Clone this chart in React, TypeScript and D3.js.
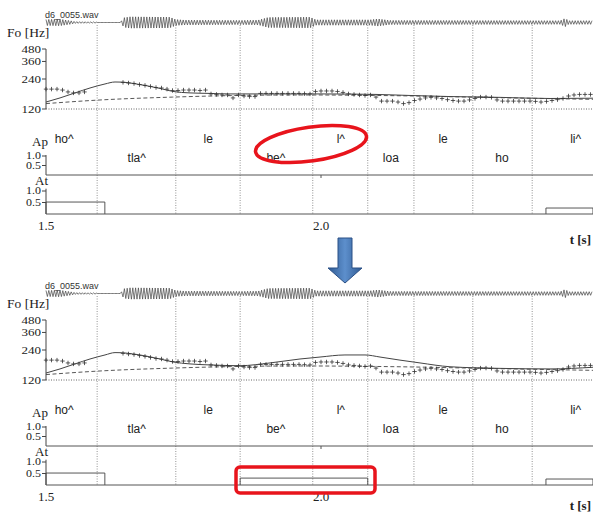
import React from 'react';
import * as d3 from 'd3';

// ---- data ----
const timeTicks = [1.5, 2.0];
const foTicks = [120, 240, 360, 480];
const apTicks = [0.5, 1.0];
const atTicks = [0.5, 1.0];

// syllable boundaries (s)
const boundaries = [1.593, 1.736, 1.853, 1.985, 2.085, 2.169, 2.276, 2.384];
const syllables = ['ho^', 'tla^', 'le', 'be^', 'l^', 'loa', 'le', 'ho', 'li^'];
const syllableTimes = [1.533, 1.665, 1.795, 1.918, 2.036, 2.127, 2.222, 2.329, 2.463];
const syllableRows = [0, 1, 0, 1, 0, 1, 0, 1, 0];

// measured F0 (t [s], Hz)
const measuredF0: [number, number][] = [
  [1.50, 190], [1.51, 190], [1.52, 190], [1.53, 186], [1.54, 178], [1.55, 174], [1.56, 174], [1.57, 178],
  [1.64, 222], [1.65, 219], [1.66, 216], [1.67, 211], [1.68, 207], [1.69, 202], [1.70, 197], [1.71, 195],
  [1.72, 190], [1.73, 184], [1.74, 184], [1.75, 186], [1.76, 186], [1.77, 186], [1.78, 184], [1.79, 186],
  [1.80, 170], [1.81, 168], [1.82, 166], [1.83, 166], [1.84, 155], [1.85, 166], [1.86, 162], [1.87, 160],
  [1.88, 160], [1.89, 172], [1.90, 172], [1.91, 172], [1.92, 172], [1.93, 172], [1.94, 172], [1.95, 172],
  [1.96, 172], [1.97, 171], [1.98, 170], [1.99, 180], [2.00, 182], [2.01, 182], [2.02, 182], [2.03, 180],
  [2.04, 176], [2.05, 170], [2.06, 168], [2.07, 166], [2.08, 164], [2.09, 166], [2.10, 158], [2.11, 144],
  [2.12, 144], [2.13, 144], [2.14, 141], [2.15, 136], [2.16, 139], [2.17, 146], [2.18, 151], [2.19, 155],
  [2.20, 157], [2.21, 155], [2.22, 153], [2.23, 149], [2.24, 146], [2.25, 144], [2.26, 144], [2.27, 148],
  [2.28, 153], [2.29, 158], [2.30, 158], [2.31, 157], [2.32, 148], [2.33, 144], [2.34, 144], [2.35, 144],
  [2.36, 144], [2.37, 144], [2.38, 144], [2.39, 143], [2.40, 141], [2.41, 143], [2.42, 146], [2.43, 149],
  [2.44, 153], [2.45, 162], [2.46, 166], [2.47, 168], [2.48, 168], [2.49, 168],
];

// model F0 contour, before (top) and after (bottom) adding the accent
const modelTop: [number, number][] = [
  [1.5, 141], [1.5255, 155], [1.5527, 174], [1.58, 195], [1.6073, 214], [1.6255, 224], [1.6436, 222],
  [1.6709, 211], [1.7073, 193], [1.7309, 180], [1.7618, 174], [1.7982, 172], [1.8345, 170], [1.9, 170],
  [2.0, 170], [2.1, 168], [2.1618, 164], [2.2345, 160], [2.3255, 157], [2.4164, 153], [2.4945, 154],
];
const modelBottom: [number, number][] = [
  [1.5, 141], [1.5255, 155], [1.5527, 174], [1.58, 195], [1.6073, 214], [1.6255, 226], [1.6436, 224],
  [1.6709, 214], [1.7073, 195], [1.7309, 182], [1.7618, 174], [1.7982, 170], [1.853, 167], [1.9073, 178],
  [1.9618, 195], [1.9982, 204], [2.0436, 214], [2.08, 214], [2.1073, 204], [2.1436, 190], [2.18, 178],
  [2.2345, 163], [2.3255, 157], [2.4164, 155], [2.4945, 161],
];
// phrase component / base line (dashed)
const baseF0: [number, number][] = [
  [1.5, 136], [1.6, 148], [1.73, 158], [1.85, 164], [1.96, 166], [2.14, 163], [2.32, 156], [2.4945, 150],
];

// accent commands [onset, offset, amplitude]
const atTop: [number, number, number][] = [[1.5, 1.607, 0.52], [2.409, 2.4945, 0.26]];
const atBottom: [number, number, number][] = [[1.5, 1.607, 0.52], [1.853, 2.085, 0.3], [2.409, 2.4945, 0.26]];

// rough waveform envelope (t [s], relative amplitude)
const waveEnvelope: [number, number][] = [
  [1.5, 0.5], [1.525, 0.55], [1.544, 0.3], [1.553, 0.15], [1.589, 0.1], [1.595, 0], [1.635, 0],
  [1.642, 0.8], [1.653, 0.95], [1.725, 0.9], [1.736, 0.5], [1.753, 0.4], [1.853, 0.35], [1.886, 0.4],
  [1.904, 0.85], [1.98, 0.9], [1.991, 0.45], [2.089, 0.45], [2.104, 0.6], [2.125, 0.35], [2.435, 0.3],
  [2.444, 0.7], [2.45, 0.3], [2.4945, 0.3],
];

// ---- scales ----
const x = d3.scaleLinear().domain([1.5, 2.0]).range([46, 321]);
const fo = d3.scaleLog().domain([120, 480]).range([109, 49]);
const ap = d3.scaleLinear().domain([0, 1]).range([175, 156]);
const at = d3.scaleLinear().domain([0, 1]).range([214, 191]);
const waveAmp = d3.scaleLinear().domain([0, 1]).range([0, 6]);
const envelope = d3.scaleLinear().domain(waveEnvelope.map(d => d[0])).range(waveEnvelope.map(d => d[1])).clamp(true);

const RIGHT = 593;
const serif = '"Liberation Serif", "Times New Roman", serif';
const sans = '"Liberation Sans", Arial, sans-serif';

const line = d3.line<[number, number]>().x(d => x(d[0])).y(d => fo(d[1])).curve(d3.curveMonotoneX);

function wavePath(): string {
  const pts: [number, number][] = [];
  let i = 0;
  for (let px = 46; px <= RIGHT; px += 1.4, i++) {
    const a = waveAmp(envelope(x.invert(px)));
    pts.push([px, 22.5 + (i % 2 ? a : -a)]);
  }
  return d3.line()(pts) || '';
}

// squeezed tick label, like the cramped scales of the original
const TickLabel = ({ y, text, size, squeeze }: { y: number; text: string; size: number; squeeze: number }) => (
  <text transform={`translate(41,${y}) scale(1,${squeeze})`} dy="0.35em" textAnchor="end" fontFamily={serif} fontSize={size} fill="#222">{text}</text>
);

const Panel = ({ dy, model, commands, tLabelY }: { dy: number; model: [number, number][]; commands: [number, number, number][]; tLabelY: number }) => (
  <g transform={`translate(0,${dy})`}>
    <text x={45} y={18} fontFamily={sans} fontSize={9} fill="#333">d6_0055.wav</text>
    <path d={wavePath()} fill="none" stroke="#444" strokeWidth={0.7} />

    {/* boundaries */}
    {boundaries.map((b, i) => (
      <line key={i} x1={x(b)} x2={x(b)} y1={25} y2={214} stroke="#777" strokeWidth={0.8} strokeDasharray="1 1.5" />
    ))}

    {/* Fo axis */}
    <text x={7} y={37} fontFamily={serif} fontSize={13.5} fill="#222">Fo [Hz]</text>
    <line x1={46} x2={46} y1={fo(480)} y2={fo(120)} stroke="#444" />
    {foTicks.map(t => (
      <g key={t}>
        <line x1={42} x2={46} y1={fo(t)} y2={fo(t)} stroke="#444" />
        <TickLabel y={fo(t)} text={String(t)} size={13} squeeze={0.85} />
      </g>
    ))}
    <line x1={46} x2={RIGHT} y1={fo(120)} y2={fo(120)} stroke="#555" strokeWidth={0.9} strokeDasharray="1 1.5" />

    {/* F0 */}
    <path d={line(baseF0) || ''} fill="none" stroke="#444" strokeWidth={0.9} strokeDasharray="4 2.5" />
    <path d={line(model) || ''} fill="none" stroke="#444" strokeWidth={1} />
    <path
      d={measuredF0.map(d => `M${x(d[0]) - 2.2},${fo(d[1])}h4.4M${x(d[0])},${fo(d[1]) - 2.2}v4.4`).join('')}
      fill="none" stroke="#333" strokeWidth={0.8}
    />

    {/* syllables */}
    {syllables.map((s, i) => (
      <text key={i} x={x(syllableTimes[i])} y={syllableRows[i] ? 162 : 143} textAnchor="middle" fontFamily={sans} fontSize={12} fill="#222">{s}</text>
    ))}

    {/* Ap */}
    <text x={32} y={146} fontFamily={serif} fontSize={13} fill="#222">Ap</text>
    <line x1={46} x2={46} y1={ap(1.05)} y2={ap(0)} stroke="#444" />
    {apTicks.map(t => (
      <g key={t}>
        <line x1={42} x2={46} y1={ap(t)} y2={ap(t)} stroke="#444" />
        <TickLabel y={ap(t)} text={t.toFixed(1)} size={12} squeeze={0.8} />
      </g>
    ))}
    <line x1={46} x2={RIGHT} y1={ap(0)} y2={ap(0)} stroke="#555" />
    <line x1={x(2.0)} x2={x(2.0)} y1={ap(0)} y2={ap(0) + 3} stroke="#555" />

    {/* At */}
    <text x={35} y={185} fontFamily={serif} fontSize={13} fill="#222">At</text>
    <line x1={46} x2={46} y1={at(1.1)} y2={at(0)} stroke="#444" />
    {atTicks.map(t => (
      <g key={t}>
        <line x1={42} x2={46} y1={at(t)} y2={at(t)} stroke="#444" />
        <TickLabel y={at(t)} text={t.toFixed(1)} size={12} squeeze={0.8} />
      </g>
    ))}
    {commands.map((c, i) => (
      <path key={i} d={`M${x(c[0])},${at(0)}V${at(c[2])}H${Math.min(x(c[1]), RIGHT)}V${at(0)}`} fill="none" stroke="#444" strokeWidth={0.9} />
    ))}
    <line x1={46} x2={RIGHT} y1={at(0)} y2={at(0)} stroke="#555" />

    {/* time axis */}
    {timeTicks.map(t => (
      <text key={t} x={x(t)} y={225} dy="0.35em" textAnchor="middle" fontFamily={serif} fontSize={13} fill="#222">{t.toFixed(1)}</text>
    ))}
    <text x={591} y={tLabelY} textAnchor="end" fontFamily={serif} fontSize={13} fontWeight="bold" fill="#222">t [s]</text>
  </g>
);

export default function App() {
  return (
    <svg width={593} height={512} style={{ position: 'absolute', left: 0, top: 0, background: '#fff' }}>
      <defs>
        <linearGradient id="arrowGrad" x1="0" x2="1" y1="0" y2="0">
          <stop offset="0" stopColor="#2f5a92" />
          <stop offset="0.5" stopColor="#5d8fcc" />
          <stop offset="1" stopColor="#2f5a92" />
        </linearGradient>
      </defs>
      <Panel dy={0} model={modelTop} commands={atTop} tLabelY={244} />
      <Panel dy={271} model={modelBottom} commands={atBottom} tLabelY={239} />

      {/* highlights */}
      <ellipse cx={311} cy={144} rx={56} ry={17} transform="rotate(-8 311 144)" fill="none" stroke="#e8141c" strokeWidth={3.5} />
      <rect x={236} y={467} width={139} height={26} rx={4} fill="none" stroke="#e8141c" strokeWidth={3.5} />

      {/* arrow */}
      <path d="M338,238H352V268H362L345,283L328,268H338Z" fill="url(#arrowGrad)" stroke="#2b5086" strokeWidth={1} />
    </svg>
  );
}
